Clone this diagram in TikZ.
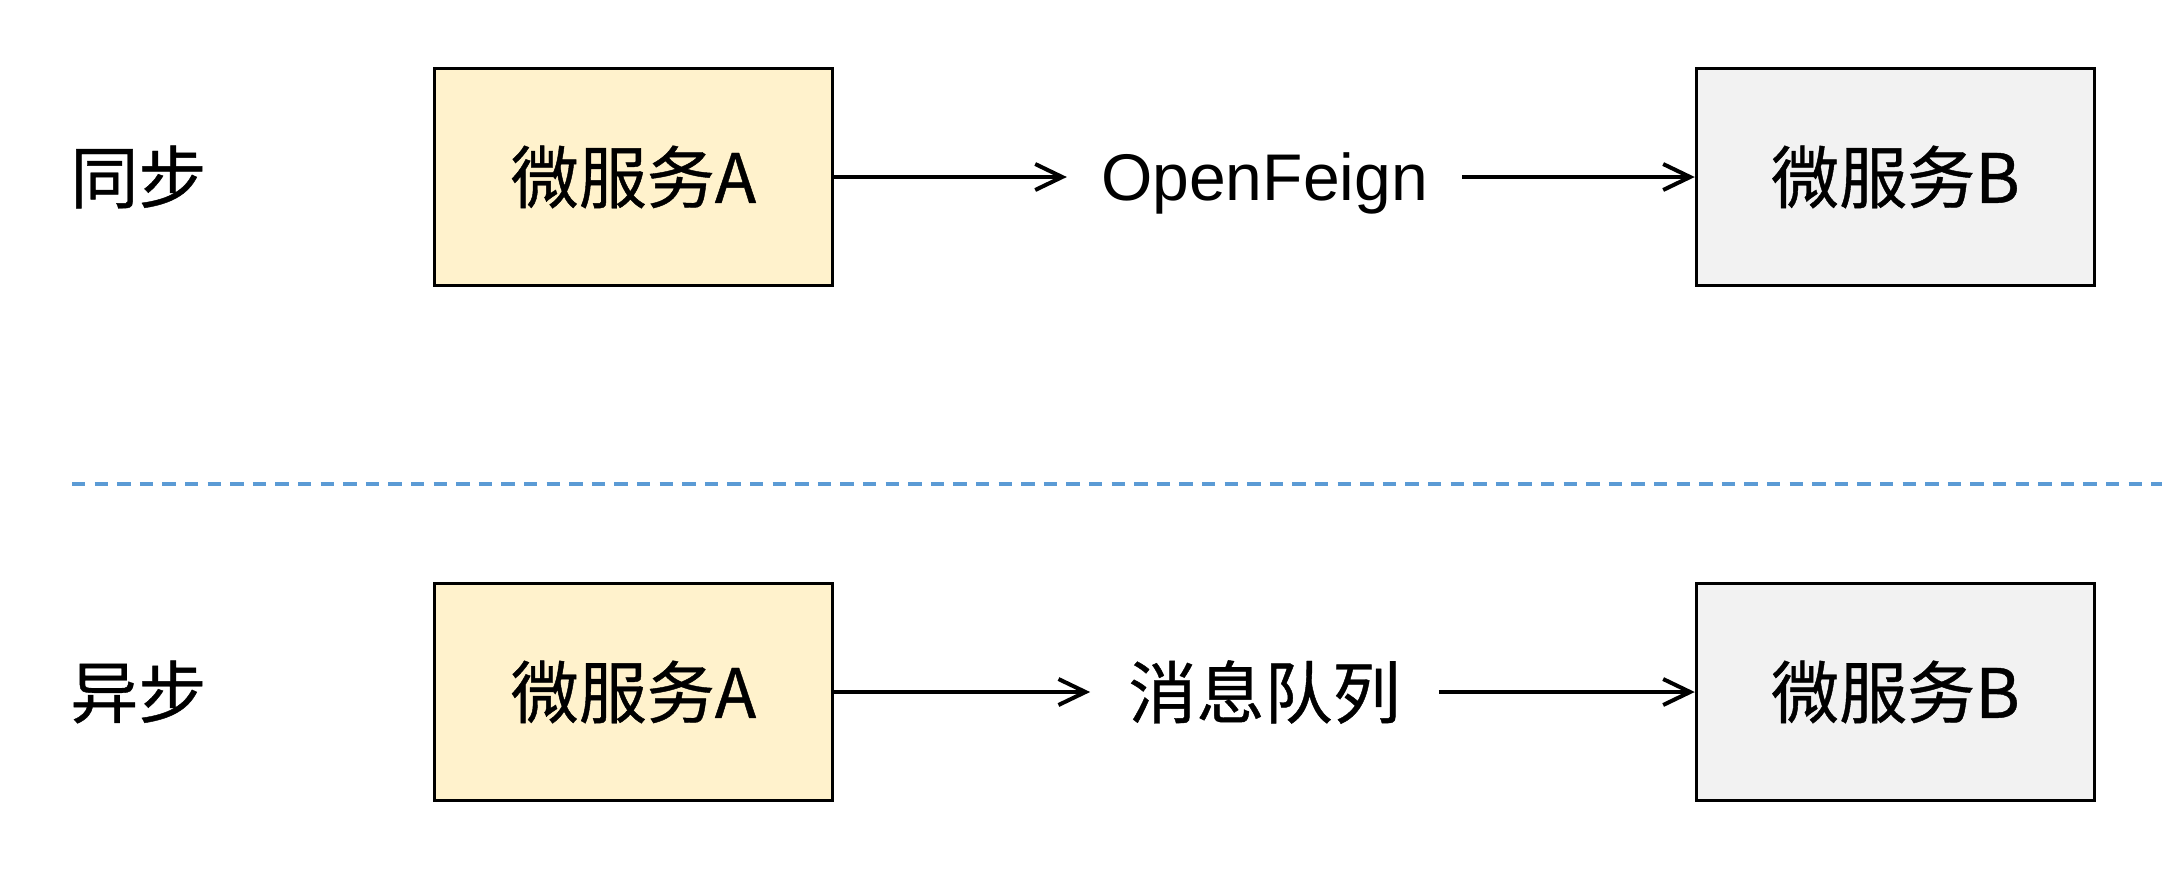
\documentclass[tikz,border=0pt]{standalone}
\usepackage{fontspec}
\setmainfont{Liberation Sans}
\newfontfamily\cjk[FakeBold=0.6]{Noto Sans CJK SC}
\usetikzlibrary{arrows.meta}
\definecolor{fillA}{HTML}{FFF2CC}
\definecolor{fillB}{HTML}{F2F2F2}
\definecolor{sepblue}{HTML}{5B9BD5}
\begin{document}
\begin{tikzpicture}[x=0.5pt,y=-0.5pt,
  svcbox/.style={draw=black,line width=1.75pt,minimum width=199pt,minimum height=108.5pt,inner sep=0pt,font=\cjk\fontsize{34}{40}\selectfont},
  rowlabel/.style={anchor=west,inner sep=0pt,font=\cjk\fontsize{34}{40}\selectfont},
  midlabel/.style={inner xsep=17pt,inner ysep=0pt},
  flow/.style={line width=2pt,-{Straight Barb[length=13.5pt,width=13pt,line width=2pt]}}]
\useasboundingbox (0,0) rectangle (2162,874);
% separator
\coordinate (sepL) at (72,484);
\coordinate (sepR) at (2162,484);
\draw[sepblue,line width=1.75pt,dash pattern=on 6.7pt off 4.6pt] (sepL) -- (sepR);
% top row
\node[rowlabel] (sync) at (70,177) {同步};
\node[svcbox,fill=fillA] (a1) at (633.5,177) {微服务A};
\node[midlabel,text height=23.6pt,text depth=0pt,font=\fontsize{33}{40}\selectfont] (feign) at (1264.5,177) {OpenFeign};
\node[svcbox,fill=fillB] (b1) at (1895.5,177) {微服务B};
\draw[flow] (a1) -- (feign);
\draw[flow] (feign) -- (b1);
% bottom row
\node[rowlabel] (async) at (70,692) {异步};
\node[svcbox,fill=fillA] (a2) at (633.5,692) {微服务A};
\node[midlabel,inner xsep=19pt,font=\cjk\fontsize{34}{40}\selectfont] (mq) at (1264.5,692) {消息队列};
\node[svcbox,fill=fillB] (b2) at (1895.5,692) {微服务B};
\draw[flow] (a2) -- (mq);
\draw[flow] (mq) -- (b2);
\end{tikzpicture}
\end{document}
